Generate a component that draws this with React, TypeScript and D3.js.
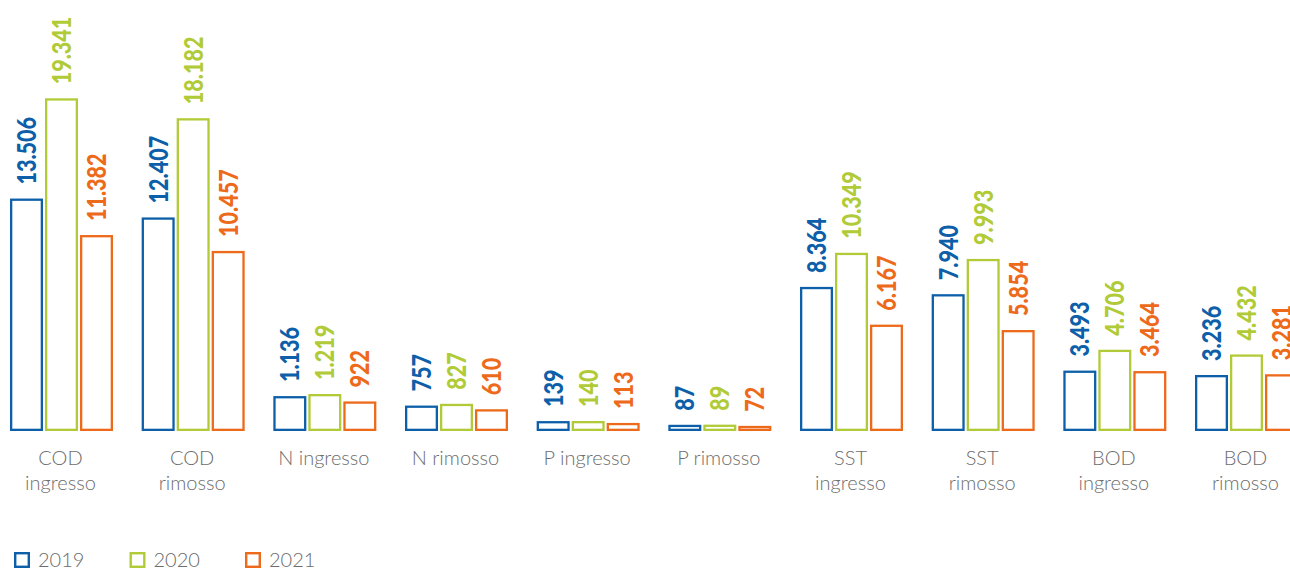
import React from "react";
import * as d3 from "d3";

const categories = ["COD ingresso", "COD rimosso", "N ingresso", "N rimosso", "P ingresso", "P rimosso", "SST ingresso", "SST rimosso", "BOD ingresso", "BOD rimosso"];
const categoryLabels = [["COD", "ingresso"], ["COD", "rimosso"], ["N ingresso"], ["N rimosso"], ["P ingresso"], ["P rimosso"], ["SST", "ingresso"], ["SST", "rimosso"], ["BOD", "ingresso"], ["BOD", "rimosso"]];
const years = ["2019", "2020", "2021"];
const values2019 = [13506, 12407, 1136, 757, 139, 87, 8364, 7940, 3493, 3236];
const values2020 = [19341, 18182, 1219, 827, 140, 89, 10349, 9993, 4706, 4432];
const values2021 = [11382, 10457, 922, 610, 113, 72, 6167, 5854, 3464, 3281];
const seriesValues = [values2019, values2020, values2021];
const colors = ["#0c5fa8", "#b1cb38", "#ee6a1b"];

// the original graphic uses a compressed (broken) scale for small values
const scaleDomain = [0, 140, 1219, 3236, 19341];

const W = 1290;
const H = 568;
const BASE = 431;
const SW = 2.3;

const itFormat = d3.formatLocale({ decimal: ",", thousands: ".", grouping: [3], currency: ["€", ""] }).format(",");

export default function App() {
  const x0 = d3.scaleBand<string>().domain(categories).range([10, 1298]).paddingInner(0.2177).paddingOuter(0).align(0);
  const x1 = d3.scaleBand<string>().domain(years).range([0, x0.bandwidth()]).paddingInner(0.057).paddingOuter(0);
  const y = d3.scaleLinear().domain(scaleDomain).range([BASE, 421, 394, 375, 98.3]);

  return (
    <svg width={W} height={H} style={{ position: "absolute", left: 0, top: 0, display: "block", background: "#fff" }}>
      {categories.map((c, ci) => (
        <g key={c} transform={`translate(${x0(c)},0)`}>
          {years.map((yr, si) => {
            const v = seriesValues[si][ci];
            const bx = x1(yr)!;
            const bw = x1.bandwidth();
            const top = y(v);
            const cx = bx + bw / 2;
            const ty = top - 14;
            return (
              <g key={yr}>
                <rect x={bx + SW / 2} y={top + SW / 2} width={bw - SW} height={BASE - top - SW} fill="#fff" stroke={colors[si]} strokeWidth={SW} />
                <text
                  transform={`translate(${cx + 9.5},${ty}) rotate(-90) scale(0.83,1)`}
                  fill={colors[si]}
                  fontFamily="Lato, 'Noto Sans', sans-serif"
                  fontWeight={900}
                  fontSize={26}
                  textAnchor="start"
                >
                  {itFormat(v)}
                </text>
              </g>
            );
          })}
          {categoryLabels[ci].map((line, li) => (
            <text
              key={li}
              x={x0.bandwidth() / 2 - 1}
              y={465 + li * 25}
              textAnchor="middle"
              fill="#6d6d6d"
              fontFamily="Lato, 'Noto Sans', sans-serif"
              fontWeight={300}
              fontSize={20}
            >
              {line}
            </text>
          ))}
        </g>
      ))}
      {years.map((yr, si) => (
        <g key={yr} transform={`translate(${14 + si * 115.5},552)`}>
          <rect x={1.2} y={1.2} width={13.6} height={13.6} fill="#fff" stroke={colors[si]} strokeWidth={2.4} />
          <text x={24} y={15} fill="#6d6d6d" fontFamily="Lato, 'Noto Sans', sans-serif" fontWeight={300} fontSize={20}>
            {yr}
          </text>
        </g>
      ))}
    </svg>
  );
}
